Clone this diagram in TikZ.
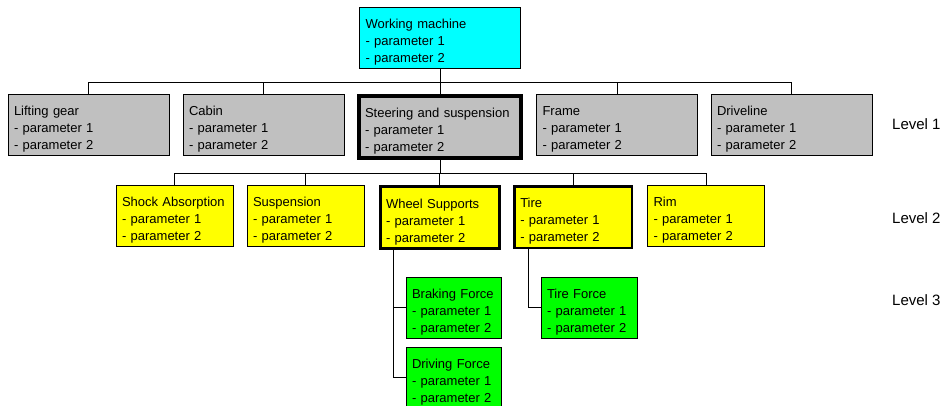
\documentclass[tikz,border=0pt]{standalone}
\usepackage{fontspec}
\setmainfont{Liberation Sans}
\usetikzlibrary{calc}
\definecolor{cyanfill}{RGB}{0,255,255}
\definecolor{grayfill}{RGB}{192,192,192}
\definecolor{yellowfill}{RGB}{255,255,0}
\definecolor{greenfill}{RGB}{0,255,0}
\begin{document}
\begin{tikzpicture}[x=1pt,y=-1pt,
  box/.style={draw=black, line width=0.9pt, rectangle, inner xsep=6pt, inner ysep=0pt,
    minimum height=61pt, align=left, anchor=center,
    execute at begin node={\rule{0pt}{18pt}},
    font=\fontsize{13}{17}\selectfont},
  widebox/.style={box, text width=149pt},
  midbox/.style={box, text width=105pt},
  narrowbox/.style={box, text width=83pt},
  heavy/.style={line width=#1},
  lvl/.style={anchor=west, inner sep=0pt, font=\fontsize{15}{18}\selectfont},
  link/.style={draw=black, line width=0.9pt}]
\useasboundingbox (0,0) rectangle (949,405);

% root
\node[widebox, fill=cyanfill] (top) at (440,38) {Working machine\\- parameter 1\\- parameter 2};

% level 1
\node[widebox, fill=grayfill] (lift)  at (88.5,124.5) {Lifting gear\\- parameter 1\\- parameter 2};
\node[widebox, fill=grayfill] (cabin) at (263.5,124.5) {Cabin\\- parameter 1\\- parameter 2};
\node[box, fill=grayfill, heavy=3.5pt, text width=150pt, minimum height=62pt] (steer) at (440,127) {Steering and suspension\\- parameter 1\\- parameter 2};
\node[widebox, fill=grayfill] (frame) at (617,124.5) {Frame\\- parameter 1\\- parameter 2};
\node[widebox, fill=grayfill] (drive) at (791.5,124.5) {Driveline\\- parameter 1\\- parameter 2};

% level 2
\node[midbox, fill=yellowfill] (shock) at (174.5,215.5) {Shock Absorption\\- parameter 1\\- parameter 2};
\node[midbox, fill=yellowfill] (susp)  at (305.5,215.5) {Suspension\\- parameter 1\\- parameter 2};
\node[box, fill=yellowfill, heavy=3pt, text width=107pt, minimum height=62pt] (wheel) at (439.5,217.5) {Wheel Supports\\- parameter 1\\- parameter 2};
\node[box, fill=yellowfill, heavy=2.5pt, text width=105.5pt, minimum height=61.5pt] (tire) at (573,217) {Tire\\- parameter 1\\- parameter 2};
\node[midbox, fill=yellowfill] (rim) at (706,215.5) {Rim\\- parameter 1\\- parameter 2};

% level 3
\node[narrowbox, fill=greenfill] (brake)  at (453.5,307.5) {Braking Force\\- parameter 1\\- parameter 2};
\node[narrowbox, fill=greenfill] (dforce) at (453.5,377.5) {Driving Force\\- parameter 1\\- parameter 2};
\node[narrowbox, fill=greenfill, text width=84pt] (tforce) at (589,307.5) {Tire Force\\- parameter 1\\- parameter 2};

% level labels
\node[lvl] (l1) at (892,124) {Level 1};
\node[lvl] (l2) at (892,218) {Level 2};
\node[lvl] (l3) at (892,300) {Level 3};

% root to level 1
\coordinate (bus1) at (440,82);
\draw[link] (top.south) -- (bus1);
\foreach \c in {lift,cabin,steer,frame,drive}
  \draw[link] (bus1) -| (\c.north);

% steering to level 2
\coordinate (bus2) at (440,173);
\draw[link] (steer.south) -- (bus2);
\foreach \c in {shock,susp,wheel,tire,rim}
  \draw[link] (bus2) -| (\c.north);

% level 3 branches
\draw[link] ([xshift=15pt]wheel.south west) |- (brake.west);
\draw[link] ([xshift=15pt]wheel.south west) |- (dforce.west);
\draw[link] ([xshift=15pt]tire.south west) |- (tforce.west);
\end{tikzpicture}
\end{document}
